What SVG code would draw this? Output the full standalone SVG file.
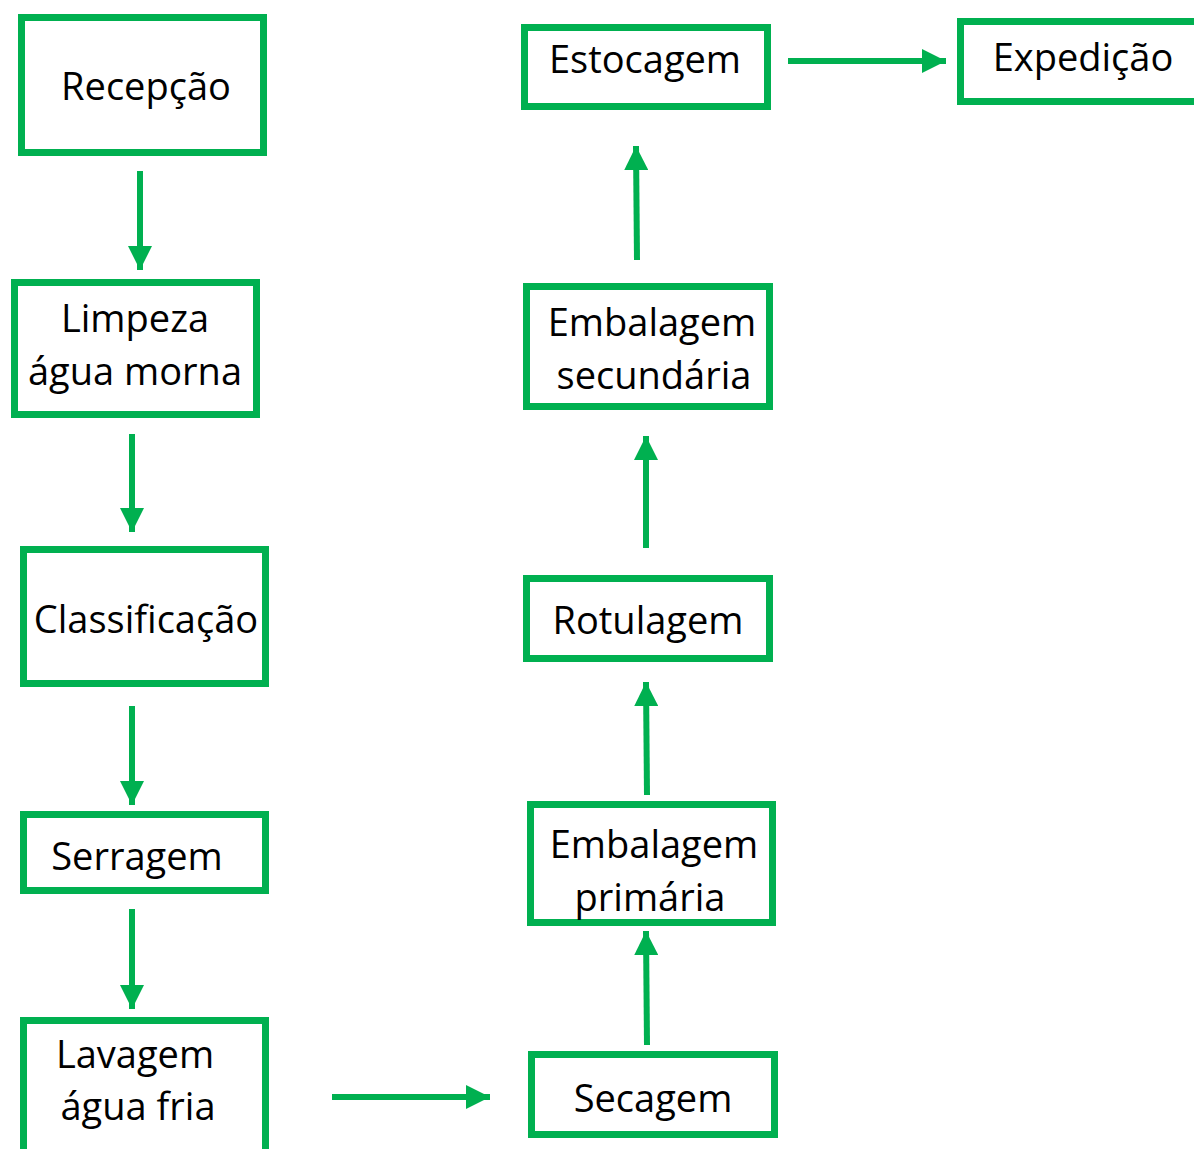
<svg xmlns="http://www.w3.org/2000/svg" width="1194" height="1149" viewBox="0 0 1194 1149">
<defs>
<style>
.box{fill:#fff;stroke:#00B050;stroke-width:7}
.t{font-family:"Open Sans","Noto Sans",sans-serif;font-size:38px;fill:#000;text-anchor:middle}
.c{stroke:#00B050;stroke-width:6;fill:none}
</style>
<marker id="ah" markerUnits="userSpaceOnUse" markerWidth="24" markerHeight="24" viewBox="0 0 24 24" refX="24" refY="12" orient="auto">
<path d="M0,0 L24,12 L0,24 Z" fill="#00B050"/>
</marker>
</defs>
<rect width="1194" height="1149" fill="#fff"/>
<g id="connectors">
<line class="c" x1="140" y1="171" x2="140" y2="270" marker-end="url(#ah)"/>
<line class="c" x1="132" y1="434" x2="132" y2="532" marker-end="url(#ah)"/>
<line class="c" x1="132" y1="706" x2="132" y2="805" marker-end="url(#ah)"/>
<line class="c" x1="132" y1="909" x2="132" y2="1009" marker-end="url(#ah)"/>
<line class="c" x1="332" y1="1097" x2="490" y2="1097" marker-end="url(#ah)"/>
<line class="c" x1="647" y1="1045" x2="646" y2="931" marker-end="url(#ah)"/>
<line class="c" x1="647" y1="795" x2="646" y2="682" marker-end="url(#ah)"/>
<line class="c" x1="646" y1="548" x2="646" y2="436" marker-end="url(#ah)"/>
<line class="c" x1="637" y1="260" x2="636" y2="146" marker-end="url(#ah)"/>
<line class="c" x1="788" y1="61" x2="946" y2="61" marker-end="url(#ah)"/>
</g>
<g id="recepcao"><rect class="box" x="21.5" y="17.5" width="242" height="135"/><text class="t" x="146" y="100">Recepção</text></g>
<g id="limpeza"><rect class="box" x="14.5" y="282.5" width="242" height="132"/><text class="t" x="135" y="332">Limpeza</text><text class="t" x="135" y="385">água morna</text></g>
<g id="classificacao"><rect class="box" x="23.5" y="549.5" width="242" height="134"/><text class="t" x="146" y="633">Classificação</text></g>
<g id="serragem"><rect class="box" x="23.5" y="814.5" width="242" height="76"/><text class="t" x="137" y="870">Serragem</text></g>
<g id="lavagem"><rect class="box" x="23.5" y="1020.5" width="242" height="140"/><text class="t" x="135" y="1068">Lavagem</text><text class="t" x="138" y="1120">água fria</text></g>
<g id="secagem"><rect class="box" x="531.5" y="1054.5" width="243" height="80"/><text class="t" x="653" y="1112">Secagem</text></g>
<g id="emb-primaria"><rect class="box" x="530.5" y="804.5" width="242" height="118"/><text class="t" x="654" y="858">Embalagem</text><text class="t" x="650" y="911">primária</text></g>
<g id="rotulagem"><rect class="box" x="526.5" y="578.5" width="243" height="80"/><text class="t" x="648" y="634">Rotulagem</text></g>
<g id="emb-secundaria"><rect class="box" x="526.5" y="286.5" width="243" height="120"/><text class="t" x="652" y="336">Embalagem</text><text class="t" x="654" y="389">secundária</text></g>
<g id="estocagem"><rect class="box" x="524.5" y="27.5" width="243" height="79"/><text class="t" x="645" y="73">Estocagem</text></g>
<g id="expedicao"><rect class="box" x="960.5" y="21.5" width="250" height="80"/><text class="t" x="1083" y="71">Expedição</text></g>
</svg>
